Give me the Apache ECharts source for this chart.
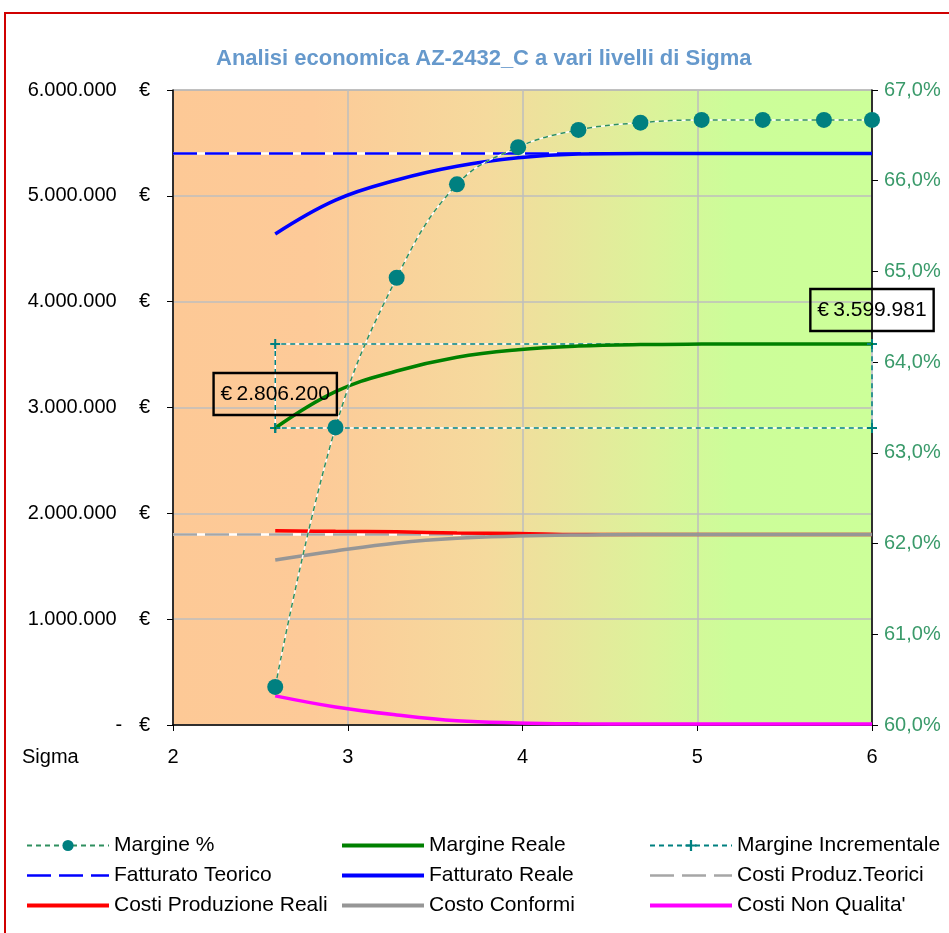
<!DOCTYPE html>
<html>
<head>
<meta charset="utf-8">
<script src="https://cdn.jsdelivr.net/npm/echarts@6/dist/echarts.min.js"></script>
<style>
html,body{margin:0;padding:0;background:#fff;}
#c{width:949px;height:933px;}
</style>
</head>
<body>
<div id="c"></div>
<script>
// ---- data ----
const sigma = [2.585, 2.93, 3.28, 3.625, 3.975, 4.32, 4.675, 5.025, 5.375, 5.725, 6.0];
const marginePct = [60.42, 63.28, 64.93, 65.96, 66.37, 66.56, 66.64, 66.67, 66.67, 66.67, 66.67];
const margineReale = [2806200, 3150000, 3345000, 3475000, 3545000, 3580000, 3595000, 3599000, 3599800, 3599950, 3599981];
const fatturatoReale = [4640000, 4960000, 5150000, 5280000, 5360000, 5395000, 5400000, 5400000, 5400000, 5400000, 5400000];
const costiProdReali = [1835000, 1830000, 1825000, 1815000, 1810000, 1800000, 1800000, 1800000, 1800000, 1800000, 1800000];
const costoConformi = [1560000, 1645000, 1720000, 1765000, 1785000, 1795000, 1800000, 1800000, 1800000, 1800000, 1800000];
const costiNonQualita = [275000, 170000, 95000, 40000, 20000, 12000, 10000, 10000, 10000, 10000, 10000];
const sigmaTeorico = [2, 6];
const fatturatoTeorico = [5400000, 5400000];
const costiProdTeorici = [1800000, 1800000];
const sigmaIncr = [2.585, 2.585, 6, 6, 2.585];
const margineIncr = [2806200, 3599981, 3599981, 2806200, 2806200];
const xTicks = [2, 3, 4, 5, 6];
const leftTicks = [0, 1000000, 2000000, 3000000, 4000000, 5000000, 6000000];
const rightTicks = [60, 61, 62, 63, 64, 65, 66, 67];

const zip = (xs, ys) => xs.map((x, i) => [x, ys[i]]);
const fmt = v => Math.round(v).toString().replace(/\B(?=(\d{3})+(?!\d))/g, '.');
const NB = '\u00a0';
const font = 'Liberation Sans, Arial, sans-serif';

const boxLabel = {
  show: true, position: 'top', distance: 12,
  formatter: p => '€' + '\u2009' + fmt(p.value[1]),
  color: '#000', fontSize: 21, fontFamily: font,
  borderColor: '#000', borderWidth: 1.2, padding: [11, 7, 10, 7],
  backgroundColor: 'transparent'
};
const mrData = zip(sigma, margineReale).map((d, i, a) =>
  (i === 0 || i === a.length - 1)
    ? { value: d, symbol: 'circle', symbolSize: 2, label: boxLabel }
    : d);

const noSym = (name, w) => ({ name: name, itemStyle: { opacity: 0, color: 'rgba(0,0,0,0)' },
  lineStyle: w ? { width: w } : undefined });
const chart = echarts.init(document.getElementById('c'));
const legendBase = {
  orient: 'vertical', top: 835, itemWidth: 82, itemHeight: 14, itemGap: 9, padding: 0,
  textStyle: { fontSize: 21, lineHeight: 21, color: '#000', fontFamily: font },
  selectedMode: false
};
chart.setOption({
  animation: false,
  textStyle: { fontFamily: font },
  title: {
    text: 'Analisi economica AZ-2432_C a vari livelli di Sigma',
    left: 211, top: 43,
    textStyle: { fontSize: 22, fontWeight: 'bold', color: '#6699CC', fontFamily: font }
  },
  graphic: [
    { type: 'rect', shape: { x: 5, y: 13, width: 1200, height: 1200 },
      style: { fill: 'none', stroke: '#D00000', lineWidth: 2 }, silent: true },
    { type: 'text', left: 22, top: 747,
      style: { text: 'Sigma', fontSize: 20, fill: '#000', fontFamily: font } }
  ],
  legend: [
    Object.assign({}, legendBase, { left: 25, data: [
      'Margine %', noSym('Fatturato Teorico', 2.5), noSym('Costi Produzione Reali', 4)] }),
    Object.assign({}, legendBase, { left: 340, data: [
      noSym('Margine Reale', 4), noSym('Fatturato Reale', 4), noSym('Costo Conformi', 4)] }),
    Object.assign({}, legendBase, { left: 648, data: [
      'Margine Incrementale', noSym('Costi Produz.Teorici', 2.5), noSym("Costi Non Qualita'", 4)] })
  ],
  grid: {
    left: 173, right: 77, top: 90, bottom: 208, show: true,
    borderColor: '#909090', borderWidth: 1,
    backgroundColor: {
      type: 'linear', x: 0, y: 0, x2: 1, y2: 0,
      colorStops: [
        { offset: 0, color: '#FDC996' },
        { offset: 0.2, color: '#FDCA98' },
        { offset: 0.45, color: '#F5DA9D' },
        { offset: 0.68, color: '#DCF29A' },
        { offset: 0.8, color: '#CCFD99' },
        { offset: 1, color: '#CCFF99' }
      ]
    }
  },
  xAxis: {
    type: 'value', min: xTicks[0], max: xTicks[xTicks.length - 1], interval: 1,
    axisLine: { show: true, lineStyle: { color: '#000', width: 1.5 } },
    axisTick: { show: true, length: 6, lineStyle: { color: '#000' } },
    axisLabel: { fontSize: 20, color: '#000', margin: 22, fontFamily: font },
    splitLine: { show: true, lineStyle: { color: '#BEBEBE', width: 1.5 } }
  },
  yAxis: [
    {
      type: 'value', min: leftTicks[0], max: leftTicks[leftTicks.length - 1], interval: 1000000,
      axisLine: { show: true, lineStyle: { color: '#000', width: 1.5 } },
      axisTick: { show: true, length: 6, lineStyle: { color: '#000' } },
      axisLabel: {
        fontSize: 20, color: '#000', margin: 23, fontFamily: font,
        formatter: v => v === 0 ? '-' + NB + NB + NB + '€' : fmt(v) + NB + NB + NB + NB + '€'
      },
      splitLine: { show: true, lineStyle: { color: '#BEBEBE', width: 1.5 } }
    },
    {
      type: 'value', position: 'right', min: rightTicks[0], max: rightTicks[rightTicks.length - 1], interval: 1,
      axisLine: { show: true, lineStyle: { color: '#000', width: 1.5 } },
      axisTick: { show: true, length: 6, lineStyle: { color: '#000' } },
      axisLabel: {
        fontSize: 20, color: '#3A9A6A', margin: 12, fontFamily: font,
        formatter: v => v.toFixed(1).replace('.', ',') + '%'
      },
      splitLine: { show: false }
    }
  ],
  series: [
    { name: '_u1', type: 'line', data: zip(sigmaTeorico, fatturatoTeorico), symbol: 'none',
      lineStyle: { color: '#FFFFFF', width: 2.5 }, silent: true },
    { name: 'Fatturato Teorico', type: 'line', data: zip(sigmaTeorico, fatturatoTeorico), symbol: 'none',
      lineStyle: { color: '#0000FF', width: 2.5, type: [24, 8] }, itemStyle: { color: '#0000FF' } },
    { name: '_u2', type: 'line', data: zip(sigmaTeorico, costiProdTeorici), symbol: 'none',
      lineStyle: { color: '#FFFFFF', width: 2.5 }, silent: true },
    { name: 'Costi Produz.Teorici', type: 'line', data: zip(sigmaTeorico, costiProdTeorici), symbol: 'none',
      lineStyle: { color: '#A6A6A6', width: 2.5, type: [24, 8] }, itemStyle: { color: '#A6A6A6' } },
    { name: '_u3', type: 'line', data: zip(sigmaIncr, margineIncr), symbol: 'none',
      lineStyle: { color: '#FFFFFF', width: 1.5 }, silent: true },
    { name: 'Margine Incrementale', type: 'line', data: zip(sigmaIncr, margineIncr),
      symbol: 'path://M4,0H6V4H10V6H6V10H4V6H0V4H4Z', symbolSize: 10, showAllSymbol: true,
      lineStyle: { color: '#008080', width: 1.5, type: [5, 4] }, itemStyle: { color: '#008080' } },
    { name: 'Fatturato Reale', type: 'line', data: zip(sigma, fatturatoReale), symbol: 'none',
      smooth: 0.4,
      lineStyle: { color: '#0000FF', width: 3.5 }, itemStyle: { color: '#0000FF' } },
    { name: 'Margine Reale', type: 'line', data: mrData, symbol: 'none', showSymbol: true,
      smooth: 0.4,
      lineStyle: { color: '#008000', width: 3.5 }, itemStyle: { color: '#008000' } },
    { name: 'Costi Produzione Reali', type: 'line', data: zip(sigma, costiProdReali), symbol: 'none',
      smooth: 0.4,
      lineStyle: { color: '#FF0000', width: 3.5 }, itemStyle: { color: '#FF0000' } },
    { name: 'Costo Conformi', type: 'line', data: zip(sigma, costoConformi), symbol: 'none',
      smooth: 0.4,
      lineStyle: { color: '#969696', width: 3.5 }, itemStyle: { color: '#969696' } },
    { name: "Costi Non Qualita'", type: 'line', data: zip(sigma, costiNonQualita), symbol: 'none',
      smooth: 0.4,
      lineStyle: { color: '#FF00FF', width: 3.5 }, itemStyle: { color: '#FF00FF' } },
    { name: '_u4', type: 'line', yAxisIndex: 1, data: zip(sigma, marginePct), symbol: 'none',
      smooth: 0.4,
      lineStyle: { color: '#FFFFFF', width: 1.5 }, silent: true },
    { name: 'Margine %', type: 'line', yAxisIndex: 1, data: zip(sigma, marginePct),
      symbol: 'circle', symbolSize: 16, showAllSymbol: true,
      smooth: 0.4,
      lineStyle: { color: '#2F8F5F', width: 1.5, type: [5, 4] }, itemStyle: { color: '#008080' } }
  ]
});
</script>
</body>
</html>
